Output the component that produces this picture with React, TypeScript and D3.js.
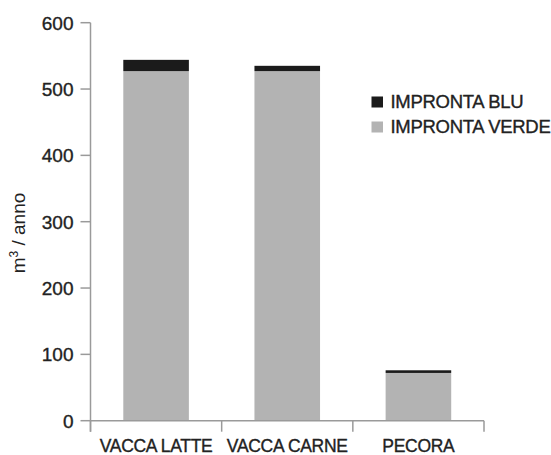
import React from "react";
import * as d3 from "d3";

const categories = ["VACCA LATTE", "VACCA CARNE", "PECORA"];
const improntaVerde = [527, 527, 72];
const improntaBlu = [17, 8, 4];
const yTicks = [0, 100, 200, 300, 400, 500, 600];
const seriesNames = ["IMPRONTA BLU", "IMPRONTA VERDE"];
const seriesColors = ["#1b1b1b", "#b3b3b3"];

const W = 551;
const H = 455;
const FONT = "'Liberation Sans', Arial, Helvetica, sans-serif";

export default function App() {
  const x = d3.scaleBand<string>().domain(categories).range([90.5, 484]).paddingInner(0.5).paddingOuter(0.25);
  const y = d3.scaleLinear().domain([0, 600]).range([420.7, 22.7]);

  const rows = categories.map((c, i) => ({ cat: c, verde: improntaVerde[i], blu: improntaBlu[i] }));
  const stacked = d3.stack<any>().keys(["verde", "blu"])(rows);
  const colorByKey: Record<string, string> = { verde: seriesColors[1], blu: seriesColors[0] };

  const axisColor = "#9a9a9a";
  const textColor = "#222";
  const x0 = 90.5;
  const xEnd = 484;
  const y0 = y(0);
  const boundaries = d3.range(categories.length + 1).map((i) => x0 + i * (xEnd - x0) / categories.length);
  const textStroke = { stroke: textColor, strokeWidth: 0.35 };

  return (
    <svg width={W} height={H} style={{ position: "absolute", left: 0, top: 0, background: "#fff" }} fontFamily={FONT}>
      <rect x={0} y={0} width={W} height={H} fill="#fff" />
      {stacked.map((s) => (
        <g key={s.key} fill={colorByKey[s.key]}>
          {s.map((d, i) => (
            <rect
              key={i}
              x={x(categories[i])}
              width={x.bandwidth()}
              y={y(d[1])}
              height={y(d[0]) - y(d[1])}
            />
          ))}
        </g>
      ))}
      <line x1={x0} x2={x0} y1={y(600)} y2={y0 + 11} stroke={axisColor} strokeWidth={1.5} />
      {yTicks.map((t) => (
        <g key={t}>
          <line x1={x0 - 10} x2={x0} y1={y(t)} y2={y(t)} stroke={axisColor} strokeWidth={1.5} />
          <text x={73.5} y={y(t)} dy="0.36em" textAnchor="end" fontSize={19} fill={textColor} {...textStroke}>
            {t}
          </text>
        </g>
      ))}
      <line x1={x0} x2={xEnd} y1={y0} y2={y0} stroke={axisColor} strokeWidth={1.5} />
      {boundaries.map((b, i) => (
        <line key={i} x1={b} x2={b} y1={y0} y2={y0 + 11} stroke={axisColor} strokeWidth={1.5} />
      ))}
      {categories.map((c) => (
        <text key={c} x={(x(c) as number) + x.bandwidth() / 2} y={452} textAnchor="middle" fontSize={17.5} fill={textColor} letterSpacing={-0.3} {...textStroke}>
          {c}
        </text>
      ))}
      <text transform={`translate(25,233) rotate(-90)`} textAnchor="middle" fontSize={19} fill={textColor}>
        m<tspan baselineShift="super" fontSize={12}>3</tspan> / anno
      </text>
      {seriesNames.map((n, i) => (
        <g key={n} transform={`translate(371.5,${96.5 + i * 25})`}>
          <rect x={0} y={0} width={11.5} height={11} fill={seriesColors[i]} />
          <text x={19} y={11.5} fontSize={18.5} fill={textColor} letterSpacing={-0.3} {...textStroke}>
            {n}
          </text>
        </g>
      ))}
    </svg>
  );
}
